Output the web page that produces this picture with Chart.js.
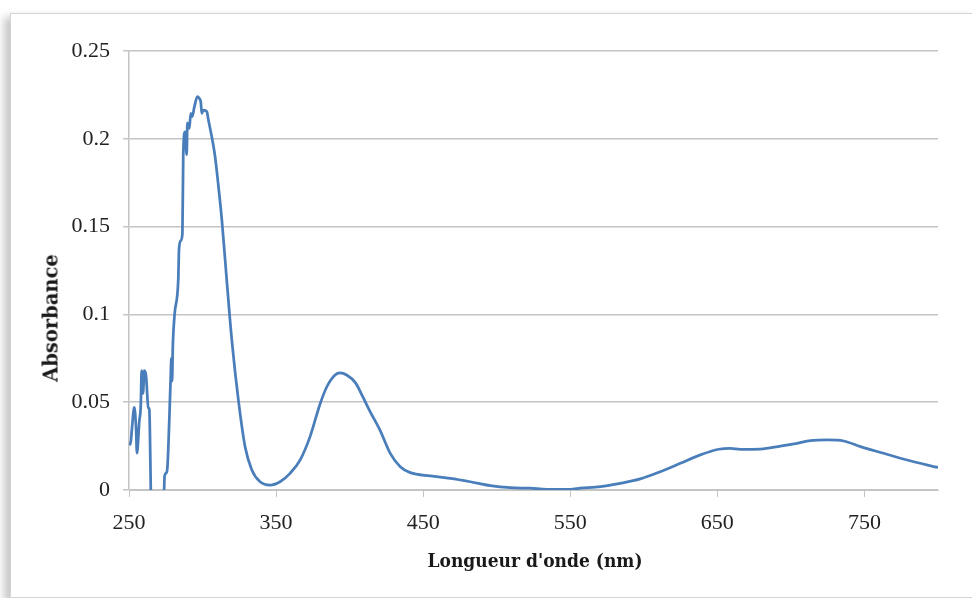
<!DOCTYPE html>
<html>
<head>
<meta charset="utf-8">
<script src="https://cdn.jsdelivr.net/npm/chart.js@4/dist/chart.umd.min.js"></script>
<style>
  html, body { margin: 0; padding: 0; background: #fff; }
  body { width: 972px; height: 598px; position: relative; overflow: hidden; }
  #frame {
    position: absolute; left: 10px; top: 13px; width: 970px; height: 583px;
    border: 1px solid #d4d4d4; box-shadow: -6px 4px 8px rgba(0,0,0,0.22); background: #fff;
  }
  #wrap { position: absolute; left: 0; top: 0; width: 972px; height: 598px; }
  .axTitle { position: absolute; font-weight: bold; color: #1a1a1a; white-space: nowrap; }
  #xTitle { left: 535px; top: 560px; font-family: "DejaVu Serif Condensed", "DejaVu Serif", serif; font-size: 19px; transform: translate(-50%, -50%); }
  #yTitle { left: 51px; top: 318px; font-family: "DejaVu Serif", serif; font-size: 19.5px; transform: translate(-50%, -50%) rotate(-90deg); }
</style>
</head>
<body>
<div id="frame"></div>
<div id="wrap"><canvas id="spectre" width="972" height="598"></canvas></div>
<div class="axTitle" id="xTitle">Longueur d'onde (nm)</div>
<div class="axTitle" id="yTitle">Absorbance</div>
<script>
// Longueurs d'onde (nm)
const wavelengths = [
  250, 251, 252, 253.6, 254.8, 255.4, 257, 258, 258.6, 259.5, 260.4, 261.6, 263.1, 263.8,
  265.2, 273.5, 274.2, 275.6, 276.2, 278.3, 278.8, 279.3, 279.8, 281, 283.5, 284, 285.2,
  286.3, 286.9, 288.1, 289.2, 289.7, 291, 292, 293, 294.4, 296.5, 297.8, 298.8, 299.5,
  300.6, 302.9, 304, 306.3, 308.5, 310.8, 313.1, 316.5, 319.9, 324.4, 328.9, 333.5,
  339.1, 345.9, 352.7, 359.5, 366.3, 373.1, 379.9, 384.5, 390.1, 393.5, 398, 404, 409,
  414, 420.7, 427.6, 434.4, 441.2, 454.8, 468.4, 482, 495.6, 509.2, 522.8, 534.1, 550,
  556.8, 570.4, 584, 597.6, 611.2, 624.8, 638.4, 650.9, 658.8, 665.6, 679.3, 692.9,
  704.2, 713.3, 724.6, 735.9, 747.3, 763.1, 779, 800
];
// Absorbance correspondante
const absorbance = [
  0.027, 0.026, 0.035, 0.047, 0.035, 0.021, 0.039, 0.048, 0.068, 0.055, 0.068, 0.065, 0.047, 0.046,
  -0.01, -0.01, 0.008, 0.010, 0.014, 0.063, 0.075, 0.062, 0.082, 0.100, 0.120, 0.137, 0.142,
  0.146, 0.192, 0.204, 0.191, 0.209, 0.206, 0.2145, 0.2126, 0.218, 0.224, 0.223, 0.221, 0.2145,
  0.2164, 0.2155, 0.2107, 0.201, 0.190, 0.173, 0.154, 0.119, 0.0854, 0.051, 0.0247, 0.0114,
  0.0047, 0.0028, 0.0047, 0.0095, 0.017, 0.0304, 0.049, 0.0588, 0.0655, 0.0667, 0.0655, 0.061, 0.053,
  0.0445, 0.034, 0.0209, 0.0133, 0.0099, 0.008, 0.0066, 0.0047, 0.0025, 0.0013, 0.001, 0.0004, 0.0004,
  0.001, 0.0019, 0.0038, 0.0063, 0.0104, 0.0152, 0.020, 0.0232, 0.0237, 0.0232, 0.0233, 0.025,
  0.0266, 0.0281, 0.0285, 0.0279, 0.0247, 0.0209, 0.0171, 0.0128
];
// Graduations
const xTicks = [250, 350, 450, 550, 650, 750];
const yTicks = [0, 0.05, 0.1, 0.15, 0.2, 0.25];

const points = wavelengths.map((w, i) => ({ x: w, y: absorbance[i] }));

const tickFont = { family: "Liberation Serif", size: 22 };
const gridGray = '#c4c4c4';

new Chart(document.getElementById('spectre'), {
  type: 'line',
  data: {
    datasets: [{
      data: points,
      borderColor: '#4a7ebb',
      borderWidth: 2.75,
      pointRadius: 0,
      cubicInterpolationMode: 'monotone',
      fill: false
    }]
  },
  options: {
    responsive: false,
    animation: false,
    layout: { padding: { top: 51, right: 34, left: 0, bottom: 0 } },
    plugins: { legend: { display: false }, tooltip: { enabled: false } },
    scales: {
      x: {
        type: 'linear',
        min: 250, max: 800,
        afterBuildTicks: s => { s.ticks = xTicks.map(v => ({ value: v })); },
        afterFit: s => { s.height = 108; },
        grid: { drawOnChartArea: false, drawTicks: true, tickLength: 7, color: gridGray },
        border: { display: true, color: gridGray, width: 1 },
        ticks: { font: tickFont, color: '#222', padding: 13, maxRotation: 0 }
      },
      y: {
        min: 0, max: 0.25,
        afterBuildTicks: s => { s.ticks = yTicks.map(v => ({ value: v })); },
        afterFit: s => { s.width = 129; },
        grid: { color: gridGray, lineWidth: 1.5, drawTicks: true, tickLength: 6 },
        border: { display: true, color: gridGray, width: 1.5 },
        ticks: { font: tickFont, color: '#222', padding: 13, callback: v => String(+v.toFixed(2)) }
      }
    }
  }
});
</script>
</body>
</html>
